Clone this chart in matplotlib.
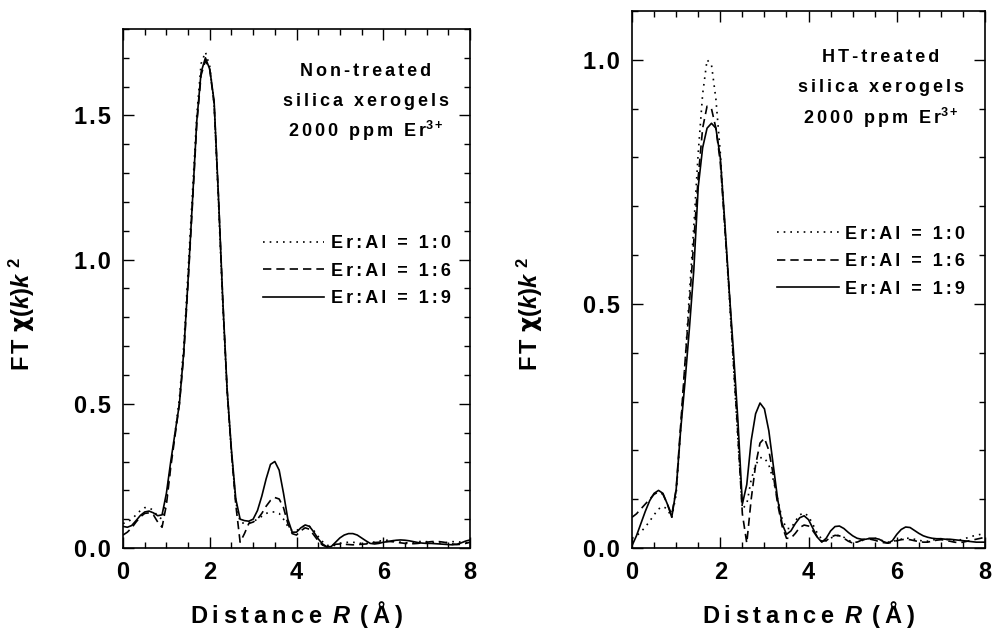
import numpy as np
import matplotlib.pyplot as plt
from matplotlib.ticker import MultipleLocator

plt.rcParams['font.family'] = ['Liberation Sans', 'DejaVu Sans']
plt.rcParams['font.weight'] = 'bold'
plt.rcParams['mathtext.fontset'] = 'custom'
plt.rcParams['mathtext.rm'] = 'Liberation Sans:bold'
plt.rcParams['mathtext.bf'] = 'Liberation Sans:bold'
plt.rcParams['mathtext.it'] = 'Liberation Sans:italic:bold'
plt.rcParams['mathtext.sf'] = 'DejaVu Sans'

# distance grid R (Angstrom), 0.1 step
distance = np.linspace(0, 8, 81)

# non-treated xerogels
nt_1_0 = [0.085, 0.09, 0.10, 0.115, 0.13, 0.14, 0.14, 0.13, 0.11, 0.10,
          0.17, 0.29, 0.40, 0.52, 0.70, 0.96, 1.23, 1.50, 1.68, 1.72,
          1.67, 1.54, 1.20, 0.84, 0.54, 0.33, 0.16, 0.09, 0.085, 0.088,
          0.092, 0.10, 0.11, 0.12, 0.125, 0.125, 0.12, 0.10, 0.075, 0.06,
          0.06, 0.07, 0.078, 0.075, 0.06, 0.04, 0.022, 0.01, 0.006, 0.01,
          0.016, 0.019, 0.02, 0.02, 0.018, 0.016, 0.016, 0.018, 0.021, 0.024,
          0.026, 0.027, 0.026, 0.023, 0.02, 0.018, 0.018, 0.02, 0.022, 0.023,
          0.022, 0.02, 0.018, 0.017, 0.018, 0.02, 0.022, 0.022, 0.02, 0.018,
          0.018]
nt_1_6 = [0.045, 0.055, 0.07, 0.09, 0.108, 0.12, 0.122, 0.115, 0.09, 0.072,
          0.15, 0.28, 0.39, 0.50, 0.67, 0.92, 1.19, 1.47, 1.64, 1.69,
          1.66, 1.54, 1.22, 0.86, 0.55, 0.33, 0.15, 0.02, 0.05, 0.085,
          0.09, 0.10, 0.12, 0.145, 0.165, 0.175, 0.17, 0.14, 0.085, 0.05,
          0.045, 0.06, 0.07, 0.065, 0.045, 0.025, 0.01, 0.004, 0.008, 0.013,
          0.014, 0.013, 0.012, 0.011, 0.012, 0.013, 0.014, 0.016, 0.019, 0.02,
          0.022, 0.023, 0.022, 0.02, 0.018, 0.016, 0.015, 0.015, 0.016, 0.018,
          0.02, 0.022, 0.023, 0.022, 0.02, 0.017, 0.014, 0.012, 0.013, 0.016,
          0.02]
nt_1_9 = [0.075, 0.072, 0.078, 0.095, 0.113, 0.125, 0.128, 0.122, 0.112, 0.115,
          0.19, 0.30, 0.40, 0.50, 0.68, 0.93, 1.20, 1.48, 1.65, 1.70,
          1.66, 1.55, 1.22, 0.86, 0.55, 0.34, 0.17, 0.10, 0.095, 0.093,
          0.10, 0.13, 0.18, 0.24, 0.29, 0.30, 0.27, 0.19, 0.10, 0.055,
          0.055, 0.07, 0.08, 0.075, 0.055, 0.032, 0.014, 0.004, 0.005, 0.02,
          0.035, 0.045, 0.05, 0.05, 0.045, 0.035, 0.025, 0.016, 0.014, 0.016,
          0.02, 0.022, 0.025, 0.027, 0.028, 0.027, 0.025, 0.022, 0.019, 0.017,
          0.016, 0.016, 0.015, 0.014, 0.013, 0.012, 0.011, 0.013, 0.018, 0.024,
          0.028]

# HT-treated xerogels
ht_1_0 = [0.02, 0.025, 0.033, 0.043, 0.055, 0.068, 0.08, 0.085, 0.08, 0.062,
          0.11, 0.24, 0.38, 0.52, 0.66, 0.81, 0.93, 1.00, 0.99, 0.92,
          0.81, 0.66, 0.52, 0.37, 0.22, 0.08, 0.09, 0.14, 0.17, 0.185,
          0.185, 0.17, 0.14, 0.10, 0.06, 0.04, 0.04, 0.055, 0.068, 0.072,
          0.065, 0.048, 0.03, 0.018, 0.015, 0.02, 0.025, 0.026, 0.022, 0.016,
          0.012, 0.012, 0.015, 0.018, 0.02, 0.02, 0.018, 0.014, 0.012, 0.013,
          0.016, 0.018, 0.02, 0.02, 0.018, 0.016, 0.014, 0.014, 0.016, 0.018,
          0.019, 0.018, 0.016, 0.015, 0.016, 0.018, 0.021, 0.024, 0.026, 0.028,
          0.03]
ht_1_6 = [0.063, 0.07, 0.08, 0.09, 0.10, 0.11, 0.115, 0.11, 0.09, 0.068,
          0.12, 0.25, 0.38, 0.50, 0.63, 0.76, 0.86, 0.905, 0.90, 0.86,
          0.79, 0.66, 0.53, 0.38, 0.23, 0.07, 0.01, 0.10, 0.17, 0.215,
          0.225, 0.20, 0.15, 0.09, 0.045, 0.02, 0.02, 0.03, 0.042, 0.047,
          0.045, 0.035, 0.022, 0.014, 0.015, 0.022, 0.026, 0.025, 0.02, 0.014,
          0.01, 0.012, 0.016, 0.018, 0.018, 0.016, 0.013, 0.011, 0.01, 0.012,
          0.015, 0.017, 0.018, 0.017, 0.015, 0.013, 0.012, 0.012, 0.014, 0.016,
          0.017, 0.016, 0.014, 0.012, 0.011, 0.012, 0.014, 0.016, 0.018, 0.02,
          0.022]
ht_1_9 = [0.005, 0.025, 0.05, 0.075, 0.097, 0.112, 0.118, 0.112, 0.09, 0.063,
          0.12, 0.24, 0.34, 0.45, 0.57, 0.74, 0.82, 0.86, 0.87, 0.86,
          0.80, 0.67, 0.53, 0.40, 0.26, 0.09, 0.13, 0.22, 0.275, 0.297,
          0.285, 0.24, 0.17, 0.10, 0.05, 0.028, 0.035, 0.05, 0.062, 0.066,
          0.058, 0.04, 0.022, 0.012, 0.02, 0.035, 0.044, 0.045, 0.04, 0.032,
          0.025, 0.02, 0.018, 0.018, 0.02, 0.02, 0.018, 0.013, 0.01, 0.015,
          0.028, 0.038, 0.043, 0.042, 0.036, 0.03, 0.025, 0.022, 0.02, 0.019,
          0.019, 0.018, 0.018, 0.017, 0.016, 0.015, 0.014, 0.013, 0.012, 0.012,
          0.012]

ratio_labels = ['Er:Al = 1:0', 'Er:Al = 1:6', 'Er:Al = 1:9']
styles = [dict(linestyle=(0, (1.0, 3.0)), lw=1.2),
          dict(linestyle=(0, (5.0, 3.0)), lw=1.2),
          dict(linestyle='-', lw=1.2)]

HAIR = '\u200a'
SIXTH = '\u2006'
THIN = '\u2009'


def spaced(s, gap=HAIR):
    # the original uses wide letter spacing
    return gap.join(s)


fig = plt.figure(figsize=(9.93, 6.37), dpi=100)
ax1 = fig.add_axes([0.1239, 0.1397, 0.3494, 0.8148])
ax2 = fig.add_axes([0.6365, 0.1397, 0.3555, 0.843])

panels = [
    (ax1, [nt_1_0, nt_1_6, nt_1_9], 1.8),
    (ax2, [ht_1_0, ht_1_6, ht_1_9], 1.1),
]

for ax, series, ytop in panels:
    for ys, lab, st in zip(series, ratio_labels, styles):
        ax.plot(distance, ys, color='black', label=spaced(lab, SIXTH), **st)
    ax.set_xlim(0, 8)
    ax.set_ylim(0, ytop)
    ax.xaxis.set_major_locator(MultipleLocator(2))
    ax.xaxis.set_minor_locator(MultipleLocator(0.5))
    ax.yaxis.set_major_locator(MultipleLocator(0.5))
    ax.yaxis.set_minor_locator(MultipleLocator(0.1))
    ax.tick_params(which='both', direction='in', top=True, right=True,
                   width=1.0, labelsize=17, pad=9)
    ax.tick_params(which='major', length=8)
    ax.tick_params(which='minor', length=4.5)
    for sp in ax.spines.values():
        sp.set_linewidth(1.2)
    ax.xaxis.set_major_formatter(plt.FuncFormatter(lambda v, p: '%d' % v))
    ax.yaxis.set_major_formatter(plt.FuncFormatter(lambda v, p: spaced('%.1f' % v)))
    for t in ax.get_xticklabels() + ax.get_yticklabels():
        t.set_fontweight('bold')

# legends
ax1.legend(loc='center left', bbox_to_anchor=(0.403, 0.5337), frameon=False,
           fontsize=13, handlelength=3.4, handletextpad=0.35,
           labelspacing=0.58, borderpad=0, borderaxespad=0)
ax2.legend(loc='center left', bbox_to_anchor=(0.411, 0.5334), frameon=False,
           fontsize=13, handlelength=3.4, handletextpad=0.35,
           labelspacing=0.58, borderpad=0, borderaxespad=0)

# sample annotations
H = 637.0
W = 993.0
for cx, ys, title in [(366, (72, 102, 131), 'Non-treated'),
                      (881, (58, 88, 118), 'HT-treated')]:
    fig.text(cx / W, 1 - ys[0] / H, spaced(title, SIXTH), ha='center', va='center',
             fontsize=13, fontweight='bold')
    fig.text(cx / W, 1 - ys[1] / H, spaced('silica xerogels', SIXTH), ha='center',
             va='center', fontsize=13, fontweight='bold')
    fig.text(cx / W, 1 - ys[2] / H, spaced('2000 ppm Er', SIXTH) + r'$^{3+}$',
             ha='center', va='center', fontsize=13, fontweight='bold')

# axis labels
for cx in (296.5, 808.5):
    fig.text(cx / W, 1 - 615 / H,
             spaced('Distance', THIN) + r'$\enspace R\enspace$' + spaced('(Å)', THIN),
             ha='center', va='center', fontsize=17, fontweight='bold')
for cx in (22, 530):
    fig.text(cx / W, 1 - 314 / H, r'$\mathrm{F\,T}\ \mathsf{\chi}(k)k^{\ 2}$',
             ha='center', va='center', rotation=90, fontsize=17, fontweight='bold')

fig.savefig('out.png', dpi=100)
